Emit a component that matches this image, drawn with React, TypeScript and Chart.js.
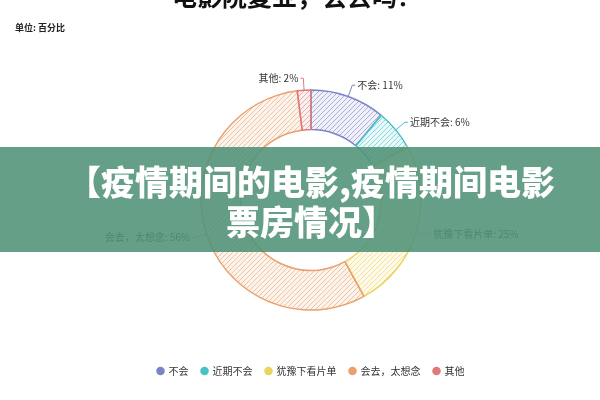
import React, { useEffect, useRef } from "react";
import { Chart, registerables } from "chart.js";

Chart.register(...registerables);

const categories = ["不会", "近期不会", "犹豫下看片单", "会去，太想念", "其他"];
const legendNames = ["不会", "近期不会", "犹豫下看片单", "会去，太想念", "其他"];
const shareValues = [11, 6, 25, 56, 2];
const sliceColors = ["#7c82c8", "#47c2c6", "#ebd35c", "#e9a06c", "#e07a7a"];
const titleText = "电影院复业，会去吗？";
const unitText = "单位: 百分比";
const bannerLines = ["【疫情期间的电影,疫情期间电影", "票房情况】"];

const FONT = '"Noto Sans CJK SC", "Noto Sans", sans-serif';

function rgba(hex: string, a: number) {
  const n = parseInt(hex.slice(1), 16);
  return `rgba(${(n >> 16) & 255},${(n >> 8) & 255},${n & 255},${a})`;
}

function hatch(hex: string): CanvasPattern | string {
  const c = document.createElement("canvas");
  c.width = 5;
  c.height = 5;
  const ctx = c.getContext("2d");
  if (!ctx) return hex;
  ctx.fillStyle = rgba(hex, 0.12);
  ctx.fillRect(0, 0, 5, 5);
  ctx.strokeStyle = rgba(hex, 0.65);
  ctx.lineWidth = 0.9;
  ctx.beginPath();
  ctx.moveTo(-1, 6); ctx.lineTo(6, -1);
  ctx.moveTo(-3.5, 3.5); ctx.lineTo(3.5, -3.5);
  ctx.moveTo(1.5, 8.5); ctx.lineTo(8.5, 1.5);
  ctx.stroke();
  return ctx.createPattern(c, "repeat") || hex;
}

const labelPlugin = {
  id: "sliceLabels",
  afterDatasetsDraw(chart: any) {
    const ctx = chart.ctx;
    const meta = chart.getDatasetMeta(0);
    ctx.save();
    ctx.font = `10px ${FONT}`;
    ctx.textBaseline = "middle";
    meta.data.forEach((arc: any, i: number) => {
      const p = arc.getProps(["x", "y", "startAngle", "endAngle", "outerRadius"], true);
      const mid = (p.startAngle + p.endAngle) / 2;
      const dx = Math.cos(mid);
      const dy = Math.sin(mid);
      const x0 = p.x + dx * p.outerRadius;
      const y0 = p.y + dy * p.outerRadius;
      const x1 = p.x + dx * (p.outerRadius + 12);
      const y1 = p.y + dy * (p.outerRadius + 12);
      const right = dx >= 0;
      const x2 = x1 + (right ? 3 : -3);
      ctx.strokeStyle = sliceColors[i];
      ctx.lineWidth = 1;
      ctx.beginPath();
      ctx.moveTo(x0, y0);
      ctx.lineTo(x1, y1);
      ctx.lineTo(x2, y1);
      ctx.stroke();
      ctx.fillStyle = "#333";
      ctx.textAlign = right ? "left" : "right";
      ctx.fillText(`${categories[i]}: ${shareValues[i]}%`, x2 + (right ? 2 : -2), y1);
    });
    ctx.restore();
  },
  afterDraw(chart: any) {
    const ctx = chart.ctx;
    ctx.save();
    ctx.fillStyle = "#111";
    ctx.font = `bold 25px ${FONT}`;
    ctx.textAlign = "center";
    ctx.textBaseline = "middle";
    ctx.fillText(titleText, 297, -4);
    ctx.font = `bold 9px ${FONT}`;
    ctx.textAlign = "left";
    ctx.fillStyle = "#222";
    ctx.fillText(unitText, 15, 28);
    ctx.restore();
  },
};

export default function App() {
  const ref = useRef<HTMLCanvasElement>(null);
  useEffect(() => {
    document.body.style.margin = "0";
    if (!ref.current) return;
    const chart = new Chart(ref.current, {
      type: "doughnut",
      data: {
        labels: legendNames,
        datasets: [
          {
            data: shareValues,
            backgroundColor: sliceColors.map(hatch) as any,
            borderColor: sliceColors,
            borderWidth: 1.5,
          } as any,
        ],
      },
      options: {
        animation: false,
        responsive: false,
        radius: 110,
        cutout: "64%",
        layout: { padding: { top: 47, bottom: 14, left: 22, right: 0 } },
        plugins: {
          tooltip: { enabled: false },
          title: { display: false },
          legend: {
            position: "bottom",
            labels: {
              usePointStyle: true,
              pointStyle: "circle",
              boxWidth: 6,
              boxHeight: 6,
              padding: 13,
              color: "#333",
              font: { size: 10, family: FONT, weight: "normal" },
              generateLabels: (ch: any) =>
                legendNames.map((name, i) => ({
                  text: name,
                  fillStyle: sliceColors[i],
                  strokeStyle: sliceColors[i],
                  lineWidth: 0,
                  pointStyle: "circle",
                  hidden: false,
                  index: i,
                  fontColor: "#333",
                })),
            },
          },
        },
      },
      plugins: [labelPlugin],
    } as any);
    return () => chart.destroy();
  }, []);
  return (
    <div style={{ position: "relative", width: 600, height: 400, background: "#fff" }}>
      <canvas ref={ref} width={600} height={400} style={{ display: "block" }} />
      <div
        style={{
          position: "absolute",
          left: 0,
          top: 147,
          width: 600,
          height: 105,
          background: "rgba(80,146,120,0.88)",
          color: "#fff",
          fontFamily: FONT,
          fontWeight: 900,
          fontSize: 34,
          lineHeight: "40px",
          textAlign: "center",
          paddingTop: 14,
          boxSizing: "border-box",
          paddingLeft: 22,
        }}
      >
        <div>{bannerLines[0]}</div>
        <div>{bannerLines[1]}</div>
      </div>
    </div>
  );
}
